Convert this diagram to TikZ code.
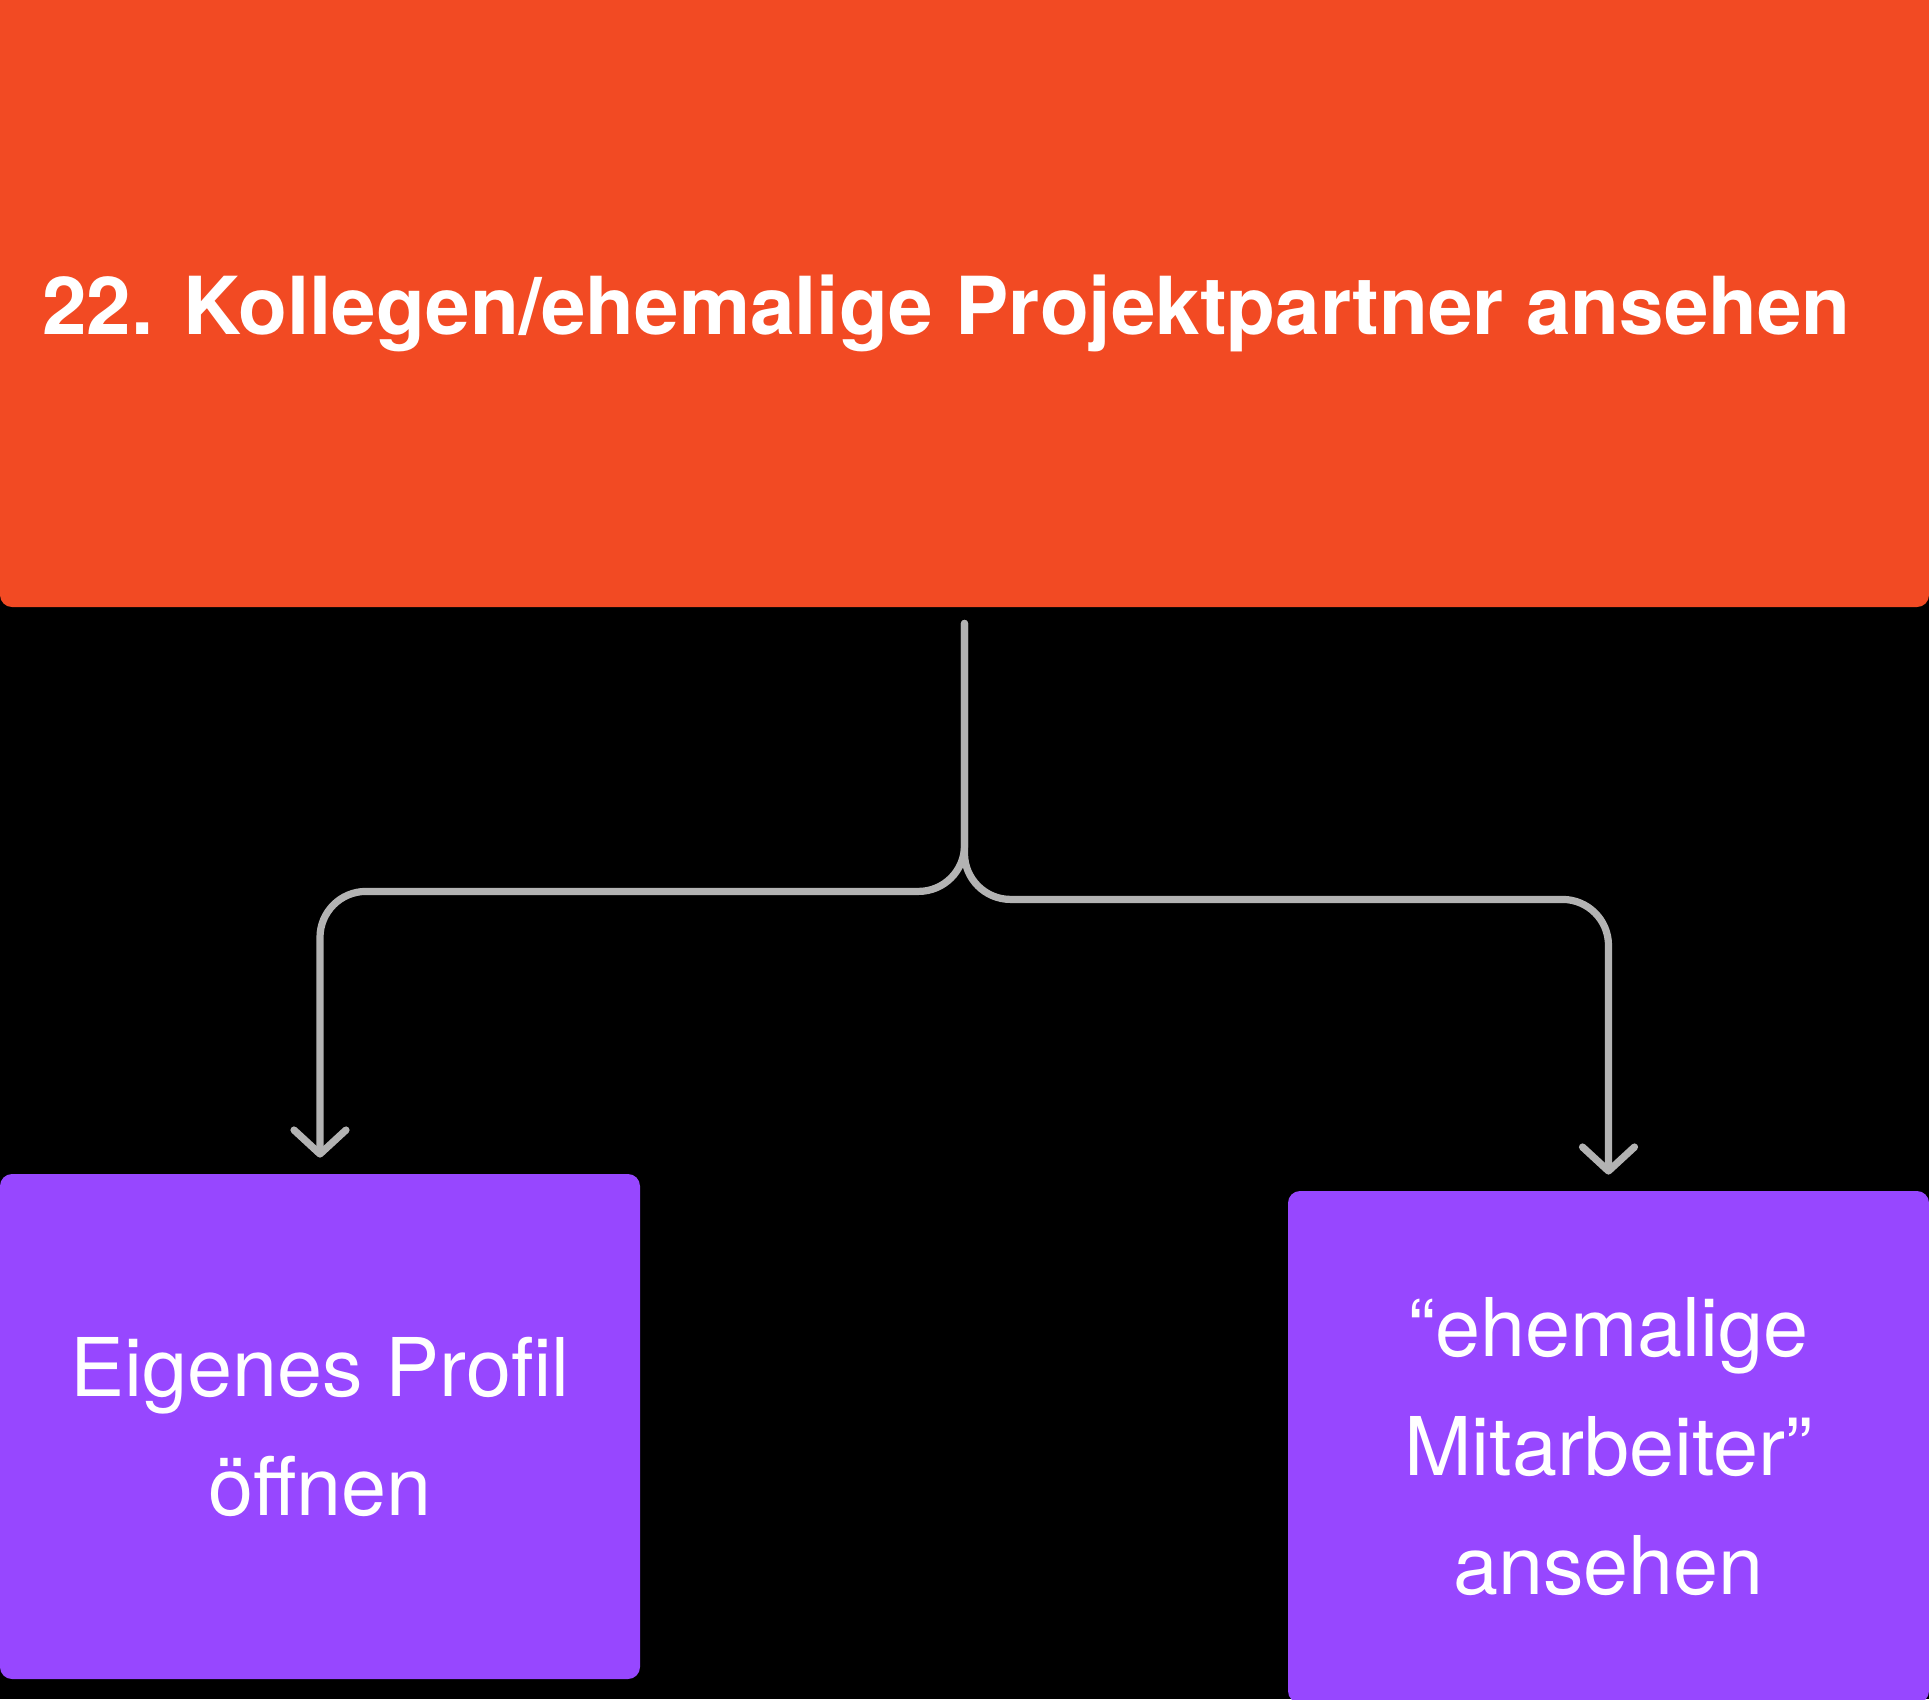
\documentclass[tikz,border=0pt]{standalone}
\usepackage{fontspec}
\setmainfont{TeX Gyre Heros}
\usetikzlibrary{arrows.meta}

\definecolor{taskred}{HTML}{F24A23}
\definecolor{stepviolet}{HTML}{9747FF}
\definecolor{linkgray}{HTML}{B3B3B3}

\tikzset{
  taskbox/.style={fill=taskred, rounded corners=6pt, inner sep=0pt},
  stepbox/.style={fill=stepviolet, rounded corners=6pt, inner sep=0pt, text=white,
    align=center, font=\fontsize{40.5}{59.5}\selectfont},
  link/.style={draw=linkgray, line width=3.6pt, line cap=round, rounded corners=23pt,
    -{Straight Barb[length=12pt,width=26pt,round]}}
}

\begin{document}
\begin{tikzpicture}[x=0.5pt, y=-0.5pt]
  \fill[black] (0,0) rectangle (1929,1699);
  \useasboundingbox (0,0) rectangle (1929,1699);

  \node[taskbox, minimum width=964.5pt, minimum height=313.5pt] (goal) at (964.5,293.5) {};
  \node[anchor=base west, text=white, font=\fontsize{40}{48}\selectfont\bfseries, inner sep=0pt]
    (title) at (42,334) {22. Kollegen/ehemalige Projektpartner ansehen};

  \node[stepbox, minimum width=320pt, minimum height=252.5pt] (profil) at (320,1426.5)
    {Eigenes Profil\\öffnen};
  \node[stepbox, minimum width=320.5pt, minimum height=256pt] (former) at (1608.5,1447)
    {“ehemalige\\Mitarbeiter”\\ansehen};

  \coordinate (stem) at ([yshift=-8pt]goal.south);
  \draw[link] (stem) -- ++(0,268) -| ([yshift=8pt]profil.north);
  \draw[link] (stem) -- ++(0,276) -| ([yshift=8pt]former.north);
\end{tikzpicture}
\end{document}
